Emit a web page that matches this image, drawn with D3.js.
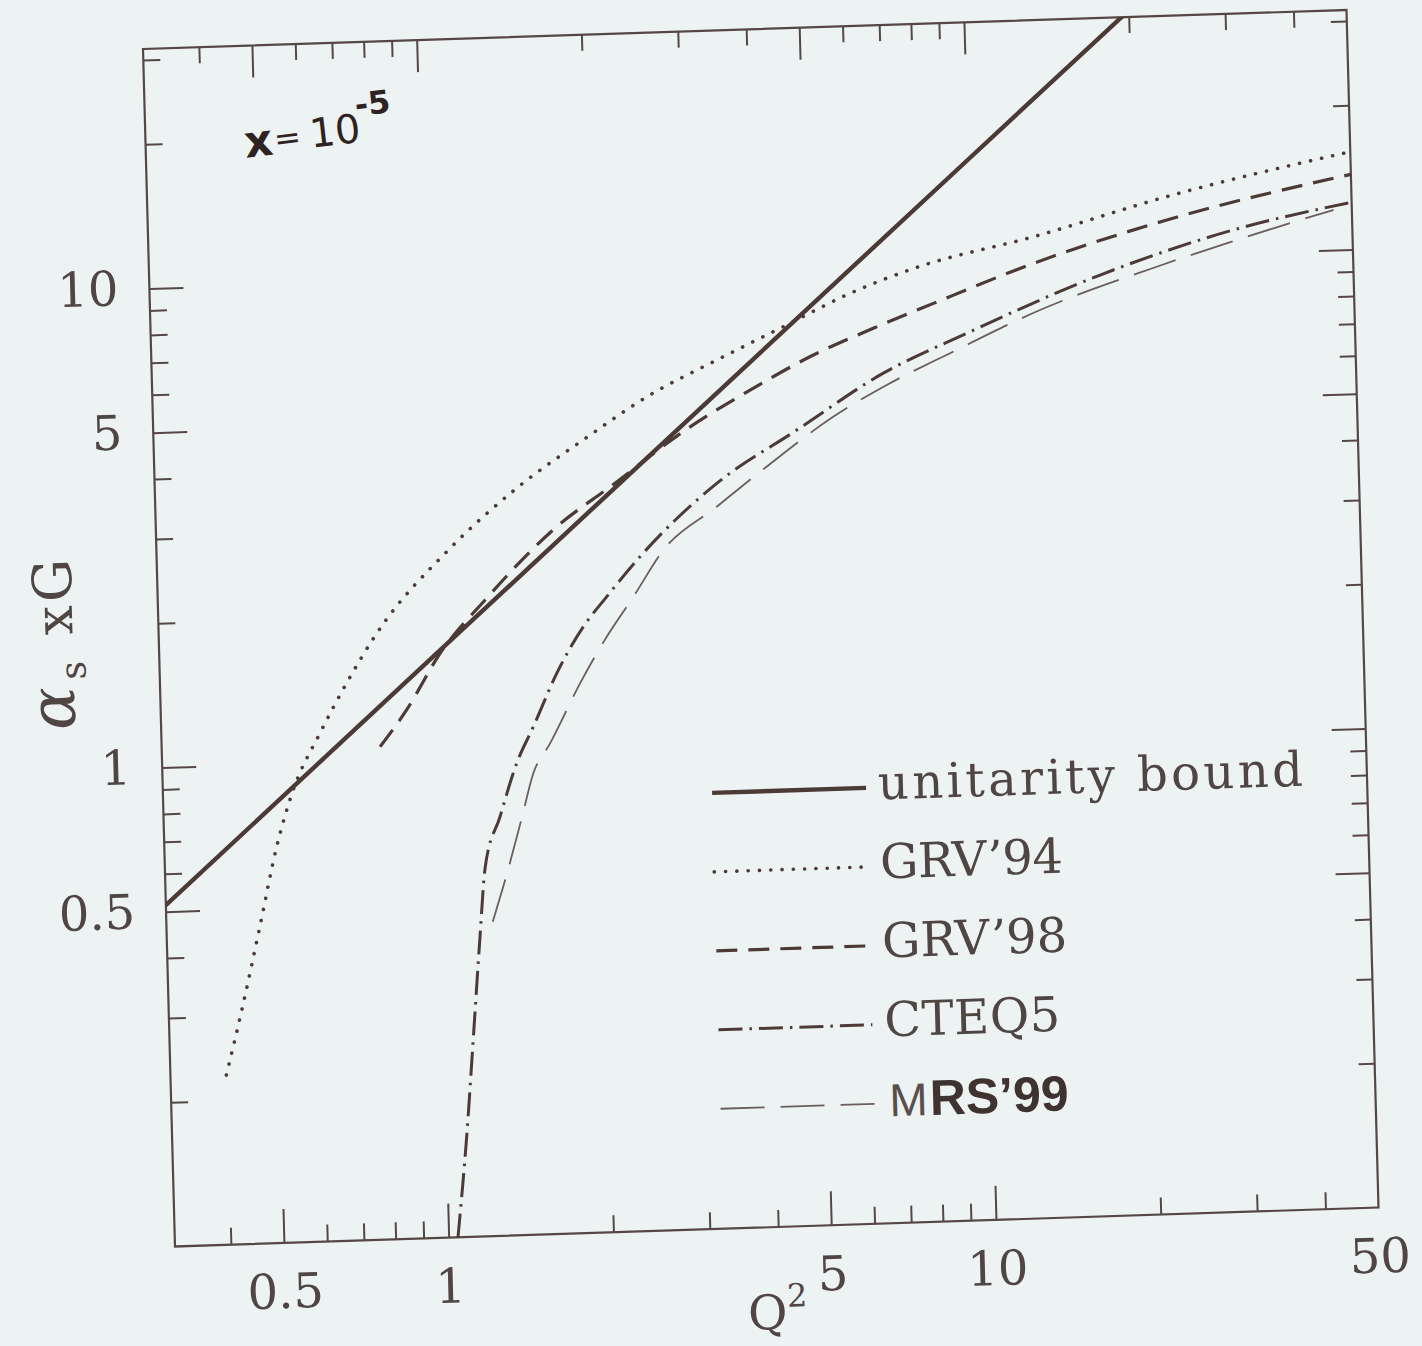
<!DOCTYPE html>
<html><head><meta charset="utf-8">
<script src="https://cdn.jsdelivr.net/npm/d3@7"></script>
<style>
html,body{margin:0;padding:0;background:#edf3f3;}
svg{display:block;}
</style></head>
<body>
<svg id="chart" width="1422" height="1346"></svg>
<script>
// ---------------- data (Q^2 in GeV^2, alpha_s xG) ----------------
const unitarityQ2 = [0.3162, 1, 10, 20];
const unitarityG  = [0.516, 1.632, 16.32, 32.6];

const grv94Q2 = [0.400, 0.430, 0.469, 0.507, 0.547, 0.616, 0.693, 0.791, 1.087, 1.448, 1.927, 2.564, 3.405, 4.52, 6.01, 7.98, 13.07, 23.0, 50];
const grv94G  = [0.226, 0.308, 0.462, 0.671, 0.879, 1.150, 1.457, 1.842, 2.74, 3.62, 4.52, 5.55, 6.49, 7.54, 8.76, 9.82, 11.17, 13.27, 16.0];

const grv98Q2 = [0.792, 0.889, 1.030, 1.252, 1.706, 2.145, 3.022, 3.905, 5.04, 6.60, 8.52, 13.03, 22.95, 50];
const grv98G  = [1.068, 1.269, 1.657, 2.126, 2.99, 3.59, 4.73, 5.59, 6.50, 7.38, 8.24, 9.83, 11.86, 14.35];

const cteq5Q2 = [1.040, 1.091, 1.135, 1.180, 1.215, 1.301, 1.404, 1.512, 1.678, 1.887, 2.089, 2.413, 3.359, 4.73, 6.85, 9.77, 17.23, 30.3, 50];
const cteq5G  = [0.100, 0.162, 0.2615, 0.422, 0.587, 0.749, 0.966, 1.148, 1.478, 1.842, 2.12, 2.555, 3.59, 4.58, 5.94, 7.10, 9.20, 11.19, 12.55];

const mrs99Q2 = [1.247, 1.320, 1.425, 1.504, 1.619, 1.849, 2.079, 2.336, 2.665, 3.35, 4.15, 5.53, 6.94, 9.09, 13.33, 21.88, 35.9, 46.3];
const mrs99G  = [0.453, 0.552, 0.741, 0.918, 1.057, 1.404, 1.748, 2.11, 2.63, 3.21, 3.86, 4.86, 5.61, 6.47, 7.85, 9.49, 11.21, 12.13];

const xMajorTicks = [0.5, 1, 5, 10];
const xMinorTicks = [0.4, 0.6, 0.7, 0.8, 0.9, 2, 3, 4, 6, 7, 8, 9, 20, 30, 40];
const xTickLabels = [0.5, 1, 5, 10, 50];
const yMajorTicks = [0.5, 1, 5, 10];
const yMinorTicks = [0.2, 0.3, 0.4, 0.6, 0.7, 0.8, 0.9, 2, 3, 4, 6, 7, 8, 9, 20, 30];
const yTickLabels = [0.5, 1, 5, 10];

const seriesNames = ["unitarity bound", "GRV’94", "GRV’98", "CTEQ5", "MRS’99"];

// ---------------- styles ----------------
const INK = "#554744";
const LINE = "#4c3a37";
const TEXT = "#4f4543";
const SERIF = "'DejaVu Serif', 'Liberation Serif', serif";
const styles = [
  {w: 4.4, dash: null, cap: "butt", color: LINE},
  {w: 3.6, dash: "0.1 11.2", cap: "round", color: LINE},
  {w: 3.2, dash: "21 11", cap: "butt", color: LINE},
  {w: 3.0, dash: "24 7 2.5 7", cap: "butt", color: LINE},
  {w: 1.8, dash: "44 16", cap: "butt", color: "#6a5e5c"}
];

// ---------------- layout ----------------
const W = 1204, H = 1198;
const svg = d3.select("#chart");
svg.append("rect").attr("width", 1422).attr("height", 1346).attr("fill", "#edf3f3");

// the scanned figure is slightly rotated
const g = svg.append("g").attr("transform", "matrix(0.99958,-0.03239,0.02671,0.99958,143,49)");

const x = d3.scaleLog().domain([0.3162, 50]).range([0, W]);
const y = d3.scaleLog().domain([0.1, 31.62]).range([H, 0]);

// ticks
function tickSet(axisGen, values, size, transform) {
  const a = g.append("g").attr("transform", transform || null)
    .call(axisGen.tickValues(values).tickSizeInner(-size).tickSizeOuter(0).tickFormat(""));
  a.select(".domain").remove();
  a.selectAll("line").attr("stroke", INK).attr("stroke-width", 2);
}
tickSet(d3.axisBottom(x), xMajorTicks, 34, `translate(0,${H})`);
tickSet(d3.axisBottom(x), xMinorTicks, 17, `translate(0,${H})`);
tickSet(d3.axisTop(x), xMajorTicks, 32, null);
tickSet(d3.axisTop(x), xMinorTicks, 16, null);
tickSet(d3.axisLeft(y), yMajorTicks, 34, null);
tickSet(d3.axisLeft(y), yMinorTicks, 17, null);
tickSet(d3.axisRight(y), yMajorTicks, 34, `translate(${W},0)`);
tickSet(d3.axisRight(y), yMinorTicks, 16, `translate(${W},0)`);

// frame
g.append("rect").attr("x", 0).attr("y", 0).attr("width", W).attr("height", H)
  .attr("fill", "none").attr("stroke", INK).attr("stroke-width", 2.2);

// tick labels
const bl = g.append("g").attr("transform", `translate(0,${H})`)
  .call(d3.axisBottom(x).tickValues(xTickLabels).tickSize(0).tickPadding(31).tickFormat(d => String(d)));
bl.select(".domain").remove();
bl.attr("font-family", SERIF).attr("font-size", 48);
bl.selectAll("text").attr("fill", TEXT);

const ll = g.append("g")
  .call(d3.axisLeft(y).tickValues(yTickLabels).tickSize(0).tickPadding(31).tickFormat(d => String(d)));
ll.select(".domain").remove();
ll.attr("font-family", SERIF).attr("font-size", 48);
ll.selectAll("text").attr("fill", TEXT);

// curves
g.append("clipPath").attr("id", "plotclip").append("rect")
  .attr("x", 0).attr("y", 0).attr("width", W).attr("height", H);
const curves = g.append("g").attr("clip-path", "url(#plotclip)");
const line = d3.line().x(d => x(d[0])).y(d => y(d[1])).curve(d3.curveMonotoneX);
const series = [
  d3.zip(unitarityQ2, unitarityG),
  d3.zip(grv94Q2, grv94G),
  d3.zip(grv98Q2, grv98G),
  d3.zip(cteq5Q2, cteq5G),
  d3.zip(mrs99Q2, mrs99G)
];
series.forEach((s, i) => {
  const st = styles[i];
  curves.append("path").attr("d", line(s)).attr("fill", "none")
    .attr("stroke", st.color).attr("stroke-width", st.w)
    .attr("stroke-dasharray", st.dash).attr("stroke-linecap", st.cap);
});

// legend
const legend = g.append("g");
const legendWidths = [425, 183, 185, 176, null];
seriesNames.forEach((name, i) => {
  const vy = 762 + 79 * i;
  const st = styles[i];
  legend.append("path").attr("d", d3.line()([[549, vy], [703, vy]]))
    .attr("fill", "none").attr("stroke", st.color).attr("stroke-width", st.w)
    .attr("stroke-dasharray", st.dash).attr("stroke-linecap", st.cap);
  if (i < 4) {
    legend.append("text").attr("x", 715).attr("y", vy + 12)
      .attr("font-family", SERIF).attr("font-size", 48).attr("fill", TEXT)
      .attr("textLength", legendWidths[i]).attr("lengthAdjust", "spacing")
      .text(name);
  } else {
    const t = legend.append("text").attr("x", 718).attr("y", vy + 13)
      .attr("font-family", "'Liberation Sans', 'DejaVu Sans', sans-serif").attr("fill", "#3f3331");
    t.append("tspan").attr("font-size", 46).attr("font-weight", 300).attr("fill", "#5a4e4c").text(name.slice(0, 1));
    t.append("tspan").attr("font-size", 50).attr("font-weight", "bold").attr("dx", 2).text(name.slice(1));
  }
});

// axis titles
const yt = g.append("g").attr("transform", "translate(-86,678) rotate(-90)")
  .attr("font-family", SERIF).attr("fill", TEXT);
yt.append("text").attr("x", 0).attr("y", 0).attr("font-size", 64).attr("font-style", "italic").text("α");
yt.append("text").attr("x", 50).attr("y", 12).attr("font-size", 36).text("s");
yt.append("text").attr("x", 95).attr("y", 0).attr("font-size", 52).text("x");
yt.append("text").attr("x", 128).attr("y", 0).attr("font-size", 54).text("G");

const xt = g.append("text").attr("x", 571).attr("y", 1300)
  .attr("font-family", SERIF).attr("fill", TEXT).attr("font-size", 48);
xt.append("tspan").text("Q");
xt.append("tspan").attr("font-size", 32).attr("dy", -22).text("2");

// handwritten annotation
const hw = g.append("g").attr("transform", "translate(100,112) rotate(-5)")
  .attr("font-family", "'DejaVu Sans', sans-serif").attr("fill", "#2e2222");
hw.append("text").attr("x", 0).attr("y", 0).attr("font-size", 44).attr("font-weight", "bold").text("x");
hw.append("text").attr("x", 30).attr("y", -4).attr("font-size", 32).text("=");
hw.append("text").attr("x", 66).attr("y", -2).attr("font-size", 40).text("10");
hw.append("text").attr("x", 114).attr("y", -28).attr("font-size", 32).attr("font-weight", "bold").text("-5");
</script>
</body></html>
